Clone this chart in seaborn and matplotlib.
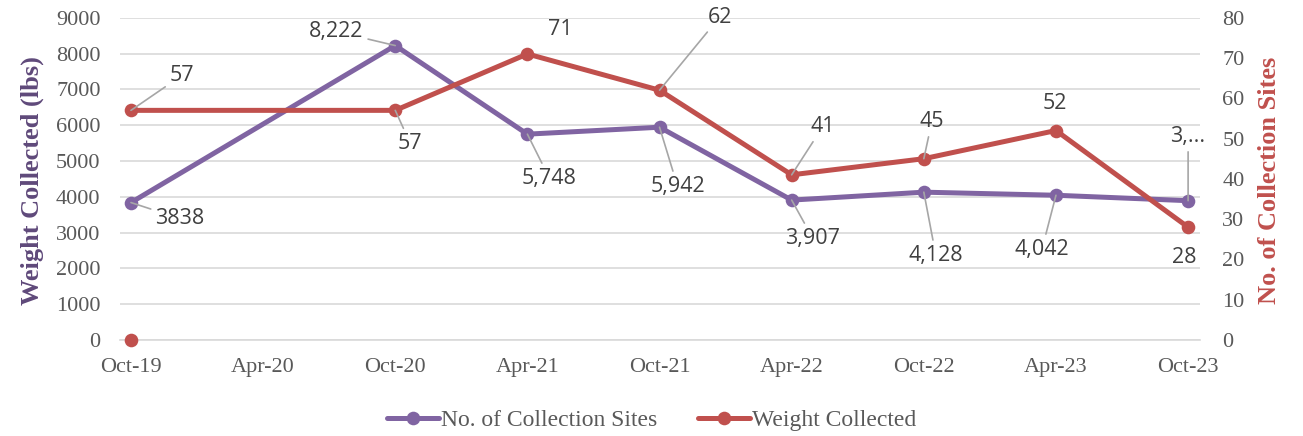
import numpy as np
import pandas as pd
import matplotlib
matplotlib.use("Agg")
import matplotlib.pyplot as plt
from matplotlib.lines import Line2D
from matplotlib.ticker import FixedLocator
import seaborn as sns

# ---------------- data ----------------
categories = ['Oct-19', 'Apr-20', 'Oct-20', 'Apr-21', 'Oct-21',
              'Apr-22', 'Oct-22', 'Apr-23', 'Oct-23']

purple_dates = ['Oct-19', 'Oct-20', 'Apr-21', 'Oct-21', 'Apr-22', 'Oct-22', 'Apr-23', 'Oct-23']
purple_values = [3838, 8222, 5748, 5942, 3907, 4128, 4042, 3890]
purple_labels = ['3838', '8,222', '5,748', '5,942', '3,907', '4,128', '4,042', '3,...']

red_dates = ['Oct-19', 'Oct-20', 'Apr-21', 'Oct-21', 'Apr-22', 'Oct-22', 'Apr-23', 'Oct-23']
red_values = [57, 57, 71, 62, 41, 45, 52, 28]
red_labels = ['57', '57', '71', '62', '41', '45', '52', '28']

stray_dates = ['Oct-19']
stray_values = [0]

left_ticks = [0, 1000, 2000, 3000, 4000, 5000, 6000, 7000, 8000, 9000]
right_ticks = [0, 10, 20, 30, 40, 50, 60, 70, 80]

legend_names = ['No. of Collection Sites', 'Weight Collected']

# ---------------- style ----------------
PURPLE = '#8064A2'
RED = '#C0504D'
PURPLE_TITLE = '#5F497A'
GRID = '#D9D9D9'
TICK_TXT = '#595959'
LABEL_TXT = '#404040'
LEADER = '#A6A6A6'

sns.set_style('white')
plt.rcParams['font.family'] = ['Liberation Serif', 'DejaVu Serif']

pos = {c: i for i, c in enumerate(categories)}
dfp = pd.DataFrame({'x': [pos[d] for d in purple_dates], 'y': purple_values})
dfr = pd.DataFrame({'x': [pos[d] for d in red_dates], 'y': red_values})
dfs = pd.DataFrame({'x': [pos[d] for d in stray_dates], 'y': stray_values})

W, H = 1303, 436
fig = plt.figure(figsize=(W / 100, H / 100), dpi=100)
L, R, T, B = 120, 1200, 17.7, 340
ax = fig.add_axes([L / W, 1 - B / H, (R - L) / W, (B - T) / H])
ax2 = ax.twinx()

LW = 3.6
MS = 9.8
sns.lineplot(data=dfp, x='x', y='y', ax=ax, color=PURPLE, linewidth=LW,
             marker='o', markersize=MS, markeredgewidth=0, legend=False, zorder=3)
sns.lineplot(data=dfr, x='x', y='y', ax=ax2, color=RED, linewidth=LW,
             marker='o', markersize=MS, markeredgewidth=0, legend=False, zorder=3)
sns.scatterplot(data=dfs, x='x', y='y', ax=ax2, color=RED, s=MS ** 2,
                linewidth=0, legend=False, zorder=3, clip_on=False)

# axes limits
xl = -0.083
ax.set_xlim(xl, 8.09)
ax.set_ylim(0, 9000)
ax2.set_ylim(0, 80)

# grid (left axis)
ax.set_yticks(left_ticks)
ax.set_yticklabels([str(v) for v in left_ticks])
ax.yaxis.grid(True, color=GRID, linewidth=1.2)
ax.set_axisbelow(True)
ax2.set_yticks(right_ticks)
ax2.set_yticklabels([str(v) for v in right_ticks])

for a in (ax, ax2):
    for s in ('top', 'left', 'right', 'bottom'):
        a.spines[s].set_visible(False)
ax.spines['bottom'].set_visible(True)
ax.spines['bottom'].set_color(GRID)
ax.spines['bottom'].set_linewidth(1.2)

ax.set_xticks(range(len(categories)))
ax.set_xticklabels(categories)
ax.xaxis.set_minor_locator(FixedLocator([i + xl for i in range(len(categories))]))
ax.tick_params(axis='x', which='major', length=0, pad=13, labelsize=16, labelcolor=TICK_TXT)
ax.tick_params(axis='x', which='minor', length=6, width=1.2, color=GRID, direction='out')
ax.tick_params(axis='y', length=0, pad=14, labelsize=16, labelcolor=TICK_TXT)
ax2.tick_params(axis='y', length=0, pad=16, labelsize=16, labelcolor=TICK_TXT)

ax.set_xlabel('')
ax.set_ylabel('Weight Collected (lbs)', fontsize=19, fontweight='bold', color=PURPLE_TITLE)
ax.yaxis.label.set_va('center')
ax.yaxis.set_label_coords((32 - L) / (R - L), (B - 181) / (B - T))
ax2.set_ylabel('No. of Collection Sites', fontsize=19, fontweight='bold', color=RED)
ax2.yaxis.label.set_va('center')
ax2.yaxis.label.set_rotation(90)
ax2.yaxis.set_label_coords((1270 - L) / (R - L), (B - 180) / (B - T))

# data labels (offsets in pixels, leader flag)
purple_offsets = [(49, -16, True), (-59, 14, True), (22, -44, True), (18, -59, True),
                  (21, -38, True), (12, -63, True), (-14, -54, True), (0, 64, True)]
red_offsets = [(51, 35, True), (15, -33, True), (33, 24, False), (60, 73, True),
               (31, 48, True), (8, 37, True), (-1, 27, False), (-4, -30, False)]


def add_labels(a, df, labels, offsets):
    for (x, y), lab, (dx, dy, lead) in zip(df[['x', 'y']].values, labels, offsets):
        kw = {}
        if lead:
            kw['arrowprops'] = dict(arrowstyle='-', color=LEADER, lw=1.2,
                                    shrinkA=1, shrinkB=0)
        a.annotate(lab, xy=(x, y), xytext=(dx, dy), textcoords='offset pixels',
                   ha='center', va='center', fontsize=15.5, color=LABEL_TXT,
                   family=['Open Sans', 'DejaVu Sans'], zorder=5, **kw)


add_labels(ax, dfp, purple_labels, purple_offsets)
add_labels(ax2, dfr, red_labels, red_offsets)

# legend
handles = [Line2D([], [], color=PURPLE, lw=LW, marker='o', ms=MS, mew=0),
           Line2D([], [], color=RED, lw=LW, marker='o', ms=MS, mew=0)]
leg = fig.legend(handles, legend_names, loc='center', bbox_to_anchor=(0.5, 1 - 420 / H),
                 ncol=2, frameon=False, prop={'family': 'Liberation Serif', 'size': 17},
                 handlelength=2.2, columnspacing=1.7, handletextpad=0.1)
for t in leg.get_texts():
    t.set_color(TICK_TXT)

fig.savefig('out.png', dpi=100)
